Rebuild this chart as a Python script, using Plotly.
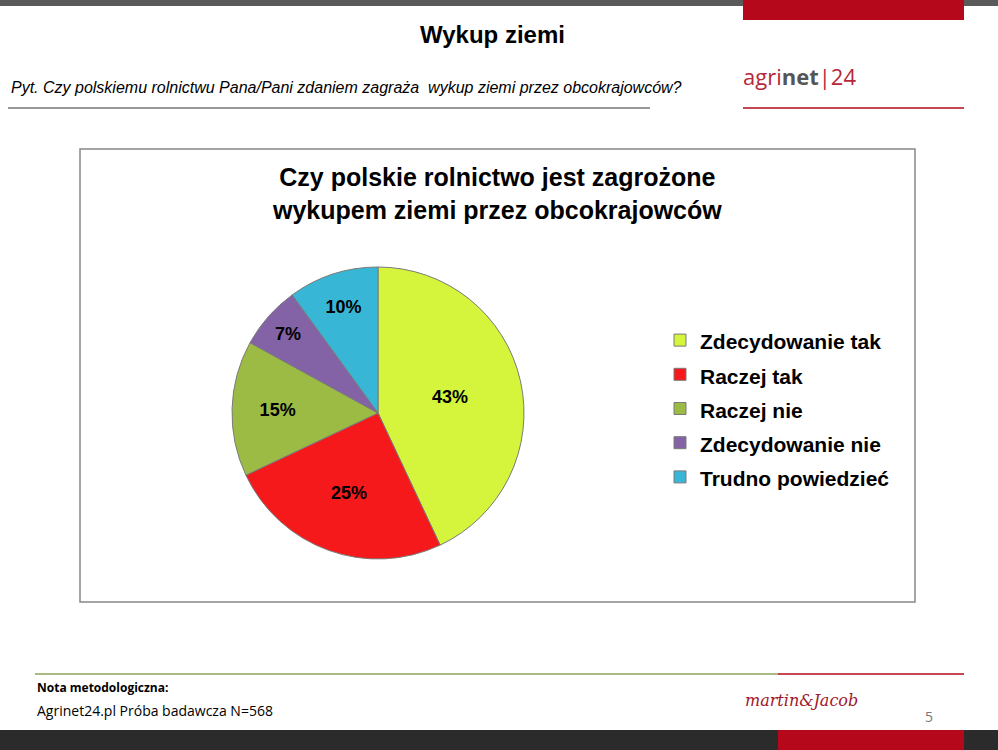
import plotly.graph_objects as go

categories = ["Zdecydowanie tak", "Raczej tak", "Raczej nie", "Zdecydowanie nie", "Trudno powiedzieć"]
values = [43, 25, 15, 7, 10]
colors = ["#d4f53c", "#f5191c", "#9cbb45", "#8462a6", "#38b6d6"]

W, H = 998, 750
def px(x): return x / W
def py(y): return 1 - y / H

fig = go.Figure(go.Pie(
    labels=["<span style='font-size:21px'>%s</span>" % c for c in categories],
    values=values, sort=False, direction="clockwise", rotation=0,
    marker=dict(colors=colors, line=dict(color="#7a7a7a", width=1)),
    texttemplate="%{percent:.0%}", textposition="inside", insidetextorientation="horizontal",
    textfont=dict(family="Arial", size=18, color="black", weight="bold"),
    domain=dict(x=[px(232), px(524)], y=[py(559), py(267)]),
    hoverinfo="label+percent",
))

shapes = [
    dict(type="rect", xref="paper", yref="paper", x0=0, x1=1, y0=py(6), y1=1, fillcolor="#5a5a5a", line_width=0),
    dict(type="rect", xref="paper", yref="paper", x0=px(743), x1=px(964), y0=py(20), y1=1, fillcolor="#b5081a", line_width=0),
    dict(type="line", xref="paper", yref="paper", x0=px(743), x1=px(964), y0=py(108), y1=py(108), line=dict(color="#b5081a", width=1.5)),
    dict(type="line", xref="paper", yref="paper", x0=px(8), x1=px(650), y0=py(108), y1=py(108), line=dict(color="#333", width=1)),
    dict(type="rect", xref="paper", yref="paper", x0=px(80), x1=px(915), y0=py(602), y1=py(149), fillcolor="rgba(0,0,0,0)", line=dict(color="#888", width=1.5)),
    dict(type="line", xref="paper", yref="paper", x0=px(35), x1=px(778), y0=py(674), y1=py(674), line=dict(color="#8fa35a", width=1.5)),
    dict(type="line", xref="paper", yref="paper", x0=px(778), x1=px(964), y0=py(674), y1=py(674), line=dict(color="#b5081a", width=1.5)),
    dict(type="rect", xref="paper", yref="paper", x0=0, x1=1, y0=0, y1=py(730), fillcolor="#2b2b2b", line_width=0),
    dict(type="rect", xref="paper", yref="paper", x0=px(778), x1=px(964), y0=0, y1=py(730), fillcolor="#b5081a", line_width=0),
]

ann = [
    dict(text="<b>Wykup ziemi</b>", x=px(492), y=py(34), font=dict(size=24, family="Arial", color="black")),
    dict(text="<i>Pyt. Czy polskiemu rolnictwu Pana/Pani zdaniem zagraża  wykup ziemi przez obcokrajowców?</i>",
         x=px(9), y=py(88), xanchor="left", font=dict(size=16, family="Arial", color="black")),
    dict(text="<span style='color:#b5283a'>agri</span><b style='color:#555'>net</b><span style='color:#b5283a'>|24</span>",
         x=px(741), y=py(76), xanchor="left", font=dict(size=22, family="Open Sans")),
    dict(text="<b>Czy polskie rolnictwo jest zagrożone<br>wykupem ziemi przez obcokrajowców</b>",
         x=px(497), y=py(194), font=dict(size=25, family="Arial", color="black")),
    dict(text="<b>Nota metodologiczna:</b>", x=px(35), y=py(687), xanchor="left", font=dict(size=12, family="Open Sans", color="black")),
    dict(text="Agrinet24.pl Próba badawcza N=568", x=px(35), y=py(710), xanchor="left", font=dict(size=14, family="Open Sans", color="black")),
    dict(text="<i>martin&Jacob</i>", x=px(860), y=py(700), font=dict(size=16, family="DejaVu Serif", color="#a0182c")),
    dict(text="5", x=px(935), y=py(716), font=dict(size=14, family="Open Sans", color="#777")),
]
for a in ann:
    a.setdefault("xref", "paper"); a.setdefault("yref", "paper"); a["showarrow"] = False; a.setdefault("yanchor", "middle")

fig.update_layout(
    width=W, height=H, margin=dict(l=0, r=0, t=0, b=0),
    paper_bgcolor="white", plot_bgcolor="white",
    shapes=shapes, annotations=ann,
    legend=dict(x=px(660), y=py(318), xanchor="left", yanchor="top",
                font=dict(size=24, family="Arial", color="black", weight="bold"),
                itemwidth=30, bgcolor="rgba(0,0,0,0)"),
)
fig.write_html("out.html", config={"displayModeBar": False}, post_script="document.body.style.margin='0';")
